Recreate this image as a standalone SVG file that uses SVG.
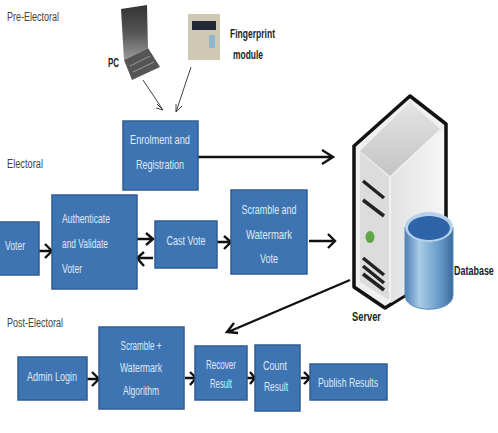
<svg xmlns="http://www.w3.org/2000/svg" width="498" height="433" viewBox="0 0 498 433">
<style>
.b{fill:#3f74b3;stroke:#2f5d94;stroke-width:1.5}
.w{fill:#dfe9f5;font-family:"Liberation Sans Narrow","Liberation Sans",sans-serif;font-size:13px;text-anchor:middle}
.k{fill:#444;font-family:"Liberation Sans",sans-serif;font-size:12px}
.d{fill:#222;font-family:"Liberation Sans Narrow","Liberation Sans",sans-serif;font-size:13px;font-weight:bold}
.c{fill:none;stroke:#111;stroke-width:2.4}
.t{fill:none;stroke:#444;stroke-width:1}
</style>
<defs>
<linearGradient id="cyl" x1="0" x2="1" y1="0" y2="0"><stop offset="0" stop-color="#4d7fb5"/><stop offset=".3" stop-color="#a9cbe6"/><stop offset=".7" stop-color="#6b9dcb"/><stop offset="1" stop-color="#3a6b9f"/></linearGradient>
<linearGradient id="lap" x1="0" x2="0" y1="0" y2="1"><stop offset="0" stop-color="#333"/><stop offset=".5" stop-color="#555"/><stop offset="1" stop-color="#999"/></linearGradient>
<linearGradient id="top" x1="0" x2="0" y1="0" y2="1"><stop offset="0" stop-color="#e4e4e4"/><stop offset="1" stop-color="#c4c4c4"/></linearGradient>
<linearGradient id="side" x1="0" x2="1" y1="0" y2="0"><stop offset="0" stop-color="#e2e2e2"/><stop offset="1" stop-color="#f6f6f6"/></linearGradient>
</defs>
<rect width="498" height="433" fill="#fff"/>
<text class="k" x="7" y="21" textLength="52" lengthAdjust="spacingAndGlyphs">Pre-Electoral</text>
<text class="k" x="7" y="168" textLength="36" lengthAdjust="spacingAndGlyphs">Electoral</text>
<text class="k" x="7" y="327" textLength="56" lengthAdjust="spacingAndGlyphs">Post-Electoral</text>
<g id="connectors">
<path class="t" d="M143 80L163 110M157 104L163 110L156 108M191 67L176 112M176 104L176 112L182 106"/>
<path class="c" d="M198 157H332M322 150L333 157L322 164"/>
<path class="c" d="M37 251H51M45 244L52 251L45 258"/>
<path class="c" d="M137 239H152M146 233L153 239L146 245"/>
<path class="c" d="M153 258H137M144 252L137 258L144 266"/>
<path class="c" d="M217 242H230M224 236L231 242L224 249"/>
<path class="c" d="M309 241H334M328 234L335 241L328 248"/>
<path class="c" d="M350 280L228 332M234 323L227 332L238 333"/>
<path class="c" d="M87 379H98M92 372L99 379L92 386"/>
<path class="c" d="M185 378H195M190 372L196 378L190 385"/>
<path class="c" d="M247 378H254M250 372L255 378L250 384"/>
<path class="c" d="M301 378H309M304 372L310 378L304 384"/>
</g>
<g id="pc">
<path d="M121 9L147 5L148 48L124 60Z" fill="url(#lap)"/>
<path d="M124 60L148 48L160 67L132 80Z" fill="#555"/>
<path d="M130 66L150 56M133 72L154 62" stroke="#999" stroke-width="1" fill="none"/>
<text class="d" x="108" y="67" textLength="11" lengthAdjust="spacingAndGlyphs">PC</text>
</g>
<g id="fingerprint">
<rect x="188" y="14" width="32" height="46" fill="#cfc9b4"/>
<rect x="192" y="21" width="24" height="9" fill="#222a3a"/>
<rect x="209" y="35" width="6" height="13" fill="#8fb7cf"/>
<text class="d" x="230" y="38" textLength="45" lengthAdjust="spacingAndGlyphs">Fingerprint</text>
<text class="d" x="233" y="59" textLength="30" lengthAdjust="spacingAndGlyphs">module</text>
</g>
<g id="enrolment"><rect class="b" x="123" y="121" width="75" height="69"/><text class="w" x="160" y="144" textLength="60" lengthAdjust="spacingAndGlyphs">Enrolment and</text><text class="w" x="160" y="169" textLength="48" lengthAdjust="spacingAndGlyphs">Registration</text></g>
<g id="voter"><rect class="b" x="-2" y="222" width="41" height="53"/><text class="w" x="15" y="250" textLength="20" lengthAdjust="spacingAndGlyphs">Voter</text></g>
<g id="authenticate"><rect class="b" x="52" y="195" width="85" height="94"/><text class="w" x="86" y="223" textLength="48" lengthAdjust="spacingAndGlyphs">Authenticate</text><text class="w" x="85" y="248" textLength="46" lengthAdjust="spacingAndGlyphs">and Validate</text><text class="w" x="72" y="273" textLength="20" lengthAdjust="spacingAndGlyphs">Voter</text></g>
<g id="cast"><rect class="b" x="155" y="221" width="62" height="47"/><text class="w" x="186" y="245" textLength="39" lengthAdjust="spacingAndGlyphs">Cast Vote</text></g>
<g id="scramble"><rect class="b" x="231" y="190" width="76" height="84"/><text class="w" x="269" y="214" textLength="55" lengthAdjust="spacingAndGlyphs">Scramble and</text><text class="w" x="269" y="239" textLength="46" lengthAdjust="spacingAndGlyphs">Watermark</text><text class="w" x="269" y="263" textLength="18" lengthAdjust="spacingAndGlyphs">Vote</text></g>
<g id="server">
<path d="M410 96L446 124V270L385 308L354 287V146Z" fill="#f0f0f0" stroke="#111" stroke-width="3.5" stroke-linejoin="round"/>
<path d="M410 102L440 129L390 176L360 151Z" fill="url(#top)"/>
<path d="M360 152L389 177V300L360 282Z" fill="#dcdcdc"/>
<path d="M391 177L444 129V270L391 303Z" fill="url(#side)"/>
<path d="M363 181L384 198M363 200L384 216M363 258L384 275M363 266L384 283M363 274L384 290" stroke="#222" stroke-width="3.5" fill="none"/>
<ellipse cx="370" cy="237" rx="4.5" ry="6" fill="#5fa64a"/>
<text class="d" x="352" y="321" textLength="29" lengthAdjust="spacingAndGlyphs">Server</text>
</g>
<g id="database">
<path d="M405 227V295C405 314 453 314 453 295V227Z" fill="url(#cyl)" stroke="#5a8bbb"/>
<ellipse cx="429" cy="227" rx="24" ry="15" fill="#b7d2ea"/>
<ellipse cx="429" cy="228" rx="21" ry="12" fill="#2f65a8"/>
<text class="d" transform="translate(454 275) scale(.69 1)" x="0" y="0">Database</text>
</g>
<g id="admin"><rect class="b" x="18" y="357" width="69" height="43"/><text class="w" x="52" y="381" textLength="50" lengthAdjust="spacingAndGlyphs">Admin Login</text></g>
<g id="algorithm"><rect class="b" x="99" y="327" width="85" height="82"/><text class="w" x="141" y="350" textLength="41" lengthAdjust="spacingAndGlyphs">Scramble +</text><text class="w" x="141" y="372" textLength="42" lengthAdjust="spacingAndGlyphs">Watermark</text><text class="w" x="141" y="395" textLength="36" lengthAdjust="spacingAndGlyphs">Algorithm</text></g>
<g id="recover"><rect class="b" x="195" y="346" width="52" height="54"/><text class="w" x="221" y="369" textLength="30" lengthAdjust="spacingAndGlyphs">Recover</text><text class="w" x="221" y="388" textLength="22" lengthAdjust="spacingAndGlyphs">Result</text></g>
<g id="count"><rect class="b" x="255" y="345" width="45" height="66"/><text class="w" x="275" y="370" textLength="24" lengthAdjust="spacingAndGlyphs">Count</text><text class="w" x="276" y="391" textLength="24" lengthAdjust="spacingAndGlyphs">Result</text></g>
<g id="publish"><rect class="b" x="310" y="364" width="77" height="36"/><text class="w" x="348" y="387" textLength="60" lengthAdjust="spacingAndGlyphs">Publish Results</text></g>
</svg>
